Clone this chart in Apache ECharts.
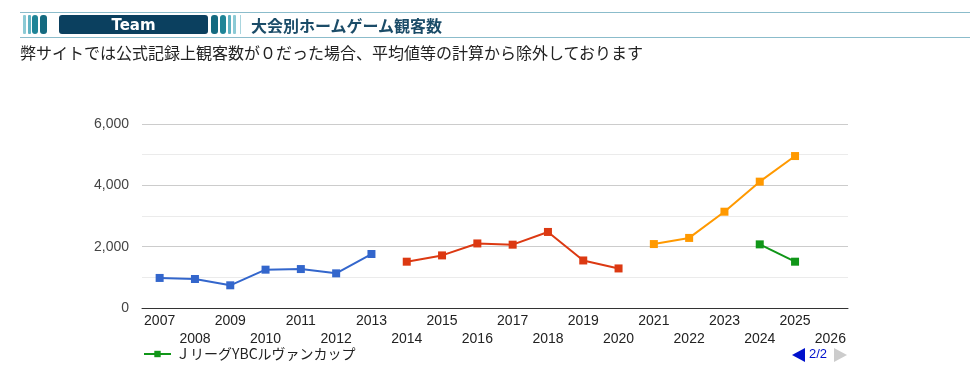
<!DOCTYPE html>
<html>
<head>
<meta charset="utf-8">
<script src="https://cdn.jsdelivr.net/npm/echarts@6/dist/echarts.min.js"></script>
<style>
  body { margin: 0; background: #fff; }
  #wrap { position: relative; width: 975px; height: 375px; overflow: hidden; }
  #chart { position: absolute; left: 0; top: 0; width: 975px; height: 375px; }
  .hline { position: absolute; left: 20px; width: 950px; height: 1px; background: #8bbccb; }
  .bar { position: absolute; top: 15px; height: 19px; border-radius: 3px; }
  #team { position: absolute; left: 59px; top: 15px; width: 149px; height: 19px; border-radius: 3px;
    background: #0b405f; color: #fff; font: bold 15px "DejaVu Sans", sans-serif; text-align: center; line-height: 20px; }
  #title { position: absolute; left: 251px; top: 14px; font: bold 16px "Noto Sans CJK JP", sans-serif; color: #1b4c68; line-height: 22px; }
  #note { position: absolute; left: 20px; top: 41px; font: 16px "Noto Sans CJK JP", sans-serif; color: #222; line-height: 22px; }
</style>
</head>
<body>
<div id="wrap">
  <div id="chart"></div>
  <div class="hline" style="top:12px"></div>
  <div class="hline" style="top:37px"></div>
  <div class="bar" style="left:23px;width:3px;background:#8ccad5;border-radius:1px"></div>
  <div class="bar" style="left:28px;width:3px;background:#5fb2c2;border-radius:1px"></div>
  <div class="bar" style="left:32px;width:6px;background:#1f8497"></div>
  <div class="bar" style="left:40px;width:7px;background:#146a80"></div>
  <div id="team">Team</div>
  <div class="bar" style="left:211px;width:7px;background:#146a80"></div>
  <div class="bar" style="left:220px;width:6px;background:#1f8497"></div>
  <div class="bar" style="left:228px;width:3px;background:#5fb2c2;border-radius:1px"></div>
  <div class="bar" style="left:233px;width:3px;background:#8ccad5;border-radius:1px"></div>
  <div class="bar" style="left:240px;width:1px;background:#a9d5de;border-radius:0"></div>
  <div id="title">大会別ホームゲーム観客数</div>
  <div id="note">弊サイトでは公式記録上観客数が０だった場合、平均値等の計算から除外しております</div>
</div>
<script>
const years = ['2007','2008','2009','2010','2011','2012','2013','2014','2015','2016',
  '2017','2018','2019','2020','2021','2022','2023','2024','2025','2026'];

// home attendance by competition (null = not played)
const jfl = [980, 945, 740, 1250, 1270, 1130, 1760, null, null, null,
  null, null, null, null, null, null, null, null, null, null];
const j3 = [null, null, null, null, null, null, null, 1510, 1715, 2105,
  2065, 2480, 1550, 1290, null, null, null, null, null, null];
const j2 = [null, null, null, null, null, null, null, null, null, null,
  null, null, null, null, 2085, 2285, 3140, 4120, 4955, null];
const levain = [null, null, null, null, null, null, null, null, null, null,
  null, null, null, null, null, null, null, 2075, 1510, null];

const seriesNames = ['JFL', 'Ｊ３リーグ', 'Ｊ２リーグ', 'ＪリーグYBCルヴァンカップ'];
const seriesColors = ['#3366cc', '#dc3912', '#ff9900', '#109618'];
const seriesData = [jfl, j3, j2, levain];

const font = '"Liberation Sans", Arial, sans-serif';

let chart = echarts.init(document.getElementById('chart'));
let option = {
  animation: false,
  textStyle: { fontFamily: font },
  grid: { left: 142, right: 127, top: 124, bottom: 67 },
  legend: {
    data: [seriesNames[3]],
    left: 143,
    top: 347,
    padding: 0,
    itemWidth: 27,
    itemHeight: 8,
    itemGap: 10,
    textStyle: { fontSize: 14, color: '#222', fontFamily: '"Noto Sans CJK JP", sans-serif' }
  },
  xAxis: {
    type: 'category',
    data: years,
    boundaryGap: true,
    axisLine: { lineStyle: { color: '#333', width: 1 } },
    axisTick: { show: false },
    axisLabel: {
      interval: 0,
      color: '#222',
      fontSize: 14,
      lineHeight: 18,
      margin: 4,
      formatter: (v, i) => (i % 2 ? '\n' + v : v)
    }
  },
  yAxis: {
    type: 'value',
    min: 0,
    max: 6000,
    interval: 2000,
    axisLine: { show: false },
    axisTick: { show: false },
    axisLabel: {
      color: '#444',
      fontSize: 14,
      margin: 13,
      formatter: v => v.toLocaleString('en-US')
    },
    splitLine: { lineStyle: { color: '#cccccc' } },
    minorTick: { show: false, splitNumber: 2 },
    minorSplitLine: { show: true, lineStyle: { color: '#ebebeb' } }
  },
  series: seriesData.map((d, i) => ({
    name: seriesNames[i],
    type: 'line',
    data: d,
    color: seriesColors[i],
    symbol: 'rect',
    symbolSize: 8,
    lineStyle: { width: 2 },
    connectNulls: false
  })),
  graphic: [
    { type: 'polygon', shape: { points: [[792, 355], [805, 348], [805, 362]] }, style: { fill: '#0011cc' } },
    { type: 'text', x: 809, y: 348, style: { text: '2/2', fill: '#0011cc', font: '13px ' + font } },
    { type: 'polygon', shape: { points: [[834, 348], [847, 355], [834, 362]] }, style: { fill: '#cccccc' } }
  ]
};
chart.setOption(option);
</script>
</body>
</html>
